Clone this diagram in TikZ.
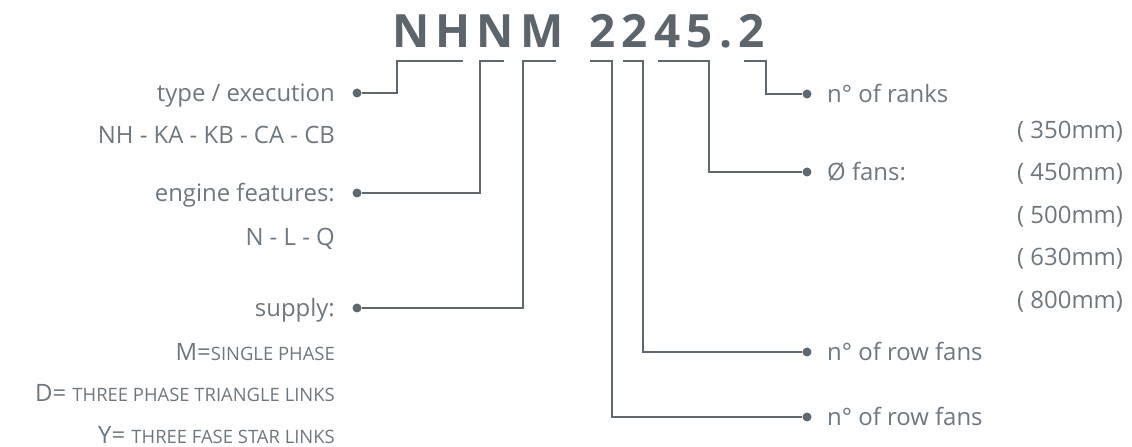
\documentclass[tikz,border=0pt]{standalone}
\usepackage{fontspec}
\setmainfont{Open Sans}
\definecolor{ttl}{HTML}{5C656C}
\definecolor{lin}{HTML}{5F686F}
\definecolor{txt}{HTML}{6F777E}
\newcommand\mysc[1]{{\fontsize{18.5}{20}\selectfont #1}}
\begin{document}
\begin{tikzpicture}[x=1bp,y=-1bp,
  lbl/.style={font=\fontsize{24}{28}\selectfont, text=txt, inner sep=0pt},
  lft/.style={lbl, anchor=base east},
  rgt/.style={lbl, anchor=base west},
  dotnode/.style={circle, fill=lin, inner sep=0pt, minimum size=9bp},
  conn/.style={draw=lin, line width=1.9bp},
  titlestyle/.style={font=\fontsize{46}{50}\bfseries\addfontfeature{LetterSpace=13.5}\selectfont, text=ttl, inner sep=0pt, anchor=base west}]
\useasboundingbox (0,0) rectangle (1132,447);

% title
\node[titlestyle] (title) at (392,48) {NHNM\hspace{8bp} 2245.2};

% left labels
\node[lft] (type) at (335,101.5) {type / execution};
\node[lft] (typev) at (335,143.5) {NH - KA - KB - CA - CB};
\node[lft] (eng) at (335,201.5) {engine features:};
\node[lft] (engv) at (335,245.5) {N - L - Q};
\node[lft] (sup) at (335,316.5) {supply:};
\node[lft] (supm) at (335,360.5) {M=\mysc{SINGLE PHASE}};
\node[lft] (supd) at (335,401.5) {D= \mysc{THREE PHASE TRIANGLE LINKS}};
\node[lft] (supy) at (335,443.5) {Y= \mysc{THREE FASE STAR LINKS}};

% right labels
\node[rgt] (ranks) at (827,102.5) {n° of ranks};
\node[rgt] (fans) at (827,180.5) {Ø fans:};
\node[rgt] (f350) at (1017,138.5) {( 350mm)};
\node[rgt] (f450) at (1017,180.5) {( 450mm)};
\node[rgt] (f500) at (1017,223.5) {( 500mm)};
\node[rgt] (f630) at (1017,265.5) {( 630mm)};
\node[rgt] (f800) at (1017,308.5) {( 800mm)};
\node[rgt] (row1) at (827,360.5) {n° of row fans};
\node[rgt] (row2) at (827,425.5) {n° of row fans};

% dots
\node[dotnode] (d1) at (357,93) {};
\node[dotnode] (d2) at (357,193) {};
\node[dotnode] (d3) at (357,308) {};
\node[dotnode] (d4) at (807,417) {};
\node[dotnode] (d5) at (807,352) {};
\node[dotnode] (d6) at (807,172) {};
\node[dotnode] (d7) at (807,94) {};

% bracket coordinates
\coordinate (b1) at (463,61); \coordinate (c1) at (397,61);
\coordinate (b2) at (504,61); \coordinate (c2) at (480,61);
\coordinate (b3) at (556,61); \coordinate (c3) at (523,61);
\coordinate (b4) at (590,61); \coordinate (c4) at (612,61);
\coordinate (b5) at (623,61); \coordinate (c5) at (643,61);
\coordinate (b6) at (658,61); \coordinate (c6) at (709,61);
\coordinate (b7) at (744,61); \coordinate (c7) at (766,61);

\draw[conn] (b1) -- (c1) |- (d1);
\draw[conn] (b2) -- (c2) |- (d2);
\draw[conn] (b3) -- (c3) |- (d3);
\draw[conn] (b4) -- (c4) |- (d4);
\draw[conn] (b5) -- (c5) |- (d5);
\draw[conn] (b6) -- (c6) |- (d6);
\draw[conn] (b7) -- (c7) |- (d7);
\end{tikzpicture}
\end{document}
